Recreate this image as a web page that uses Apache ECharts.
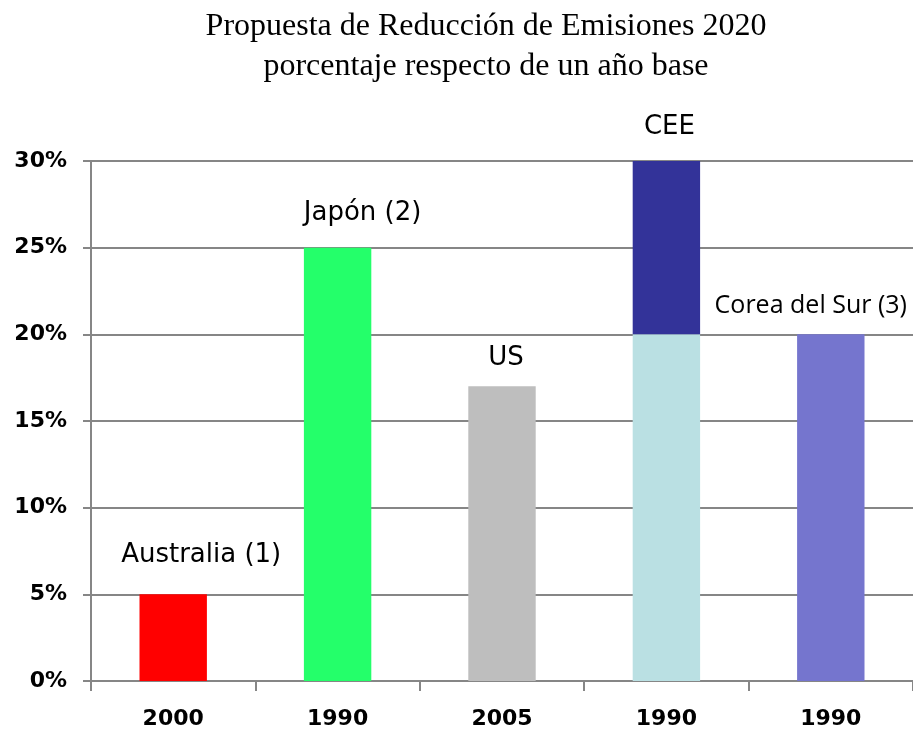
<!DOCTYPE html>
<html>
<head>
<meta charset="utf-8">
<script src="https://cdn.jsdelivr.net/npm/echarts@6/dist/echarts.min.js"></script>
<style>
  html, body { margin: 0; padding: 0; background: #fff; }
  #chart { width: 913px; height: 733px; }
</style>
</head>
<body>
<div id="chart"></div>
<script>
// base year for each proposal (x axis)
var categories = ['2000', '1990', '2005', '1990', '1990'];
var barNames = ['Australia (1)', 'Japón (2)', 'US', 'CEE', 'Corea del Sur (3)'];
// reduction, % of base year
var baseValues = [5, 25, 17, 20, 20];
var extraValues = [0, 0, 0, 10, 0];   // CEE upper range
var baseColors = ['#ff0000', '#24ff6a', '#bebebe', '#bae0e3', '#7575ce'];
var extraColor = '#333399';

// label nudges so text sits like the original slide
var labelOffsets = [[28, -26], [25, -21], [4, -15], [3, -21], [-20, -16]];

var chart = echarts.init(document.getElementById('chart'));

function barLabel(i, show) {
  return {
    show: show,
    formatter: barNames[i],
    offset: labelOffsets[i],
    fontFamily: i === 4 ? 'Open Sans' : 'DejaVu Sans',
    fontSize: i === 4 ? 25 : 26
  };
}

var baseData = baseValues.map(function (v, i) {
  return { value: v, itemStyle: { color: baseColors[i] }, label: barLabel(i, extraValues[i] === 0) };
});
var extraData = extraValues.map(function (v, i) {
  return { value: v, itemStyle: { color: extraColor }, label: barLabel(i, v > 0) };
});

chart.setOption({
  animation: false,
  title: {
    text: 'Propuesta de Reducción de Emisiones 2020\nporcentaje respecto de un año base',
    left: 481,
    textAlign: 'center',
    top: 2,
    textStyle: {
      fontFamily: 'Liberation Serif',
      fontWeight: 'normal',
      fontSize: 32,
      lineHeight: 40,
      color: '#000'
    }
  },
  grid: { left: 91, top: 161, width: 831, height: 520, containLabel: false },
  xAxis: {
    type: 'category',
    data: categories,
    axisLine: { lineStyle: { color: '#868686', width: 2 } },
    axisTick: { show: true, length: 10, lineStyle: { color: '#868686', width: 2 } },
    axisLabel: {
      color: '#000',
      fontFamily: 'DejaVu Sans',
      fontWeight: 'bold',
      fontSize: 22,
      margin: 27
    }
  },
  yAxis: {
    type: 'value',
    min: 0,
    max: 30,
    interval: 5,
    axisLine: { show: true, lineStyle: { color: '#868686', width: 2 } },
    axisTick: { show: true, length: 8, lineStyle: { color: '#868686', width: 2 } },
    splitLine: { lineStyle: { color: '#868686', width: 2 } },
    axisLabel: {
      formatter: '{value}%',
      color: '#000',
      fontFamily: 'DejaVu Sans',
      fontWeight: 'bold',
      fontSize: 22,
      margin: 24
    }
  },
  series: [
    {
      type: 'bar',
      stack: 'total',
      barWidth: '41%',
      data: baseData,
      label: { position: 'top', distance: 0, color: '#000' }
    },
    {
      type: 'bar',
      stack: 'total',
      barWidth: '41%',
      data: extraData,
      label: { position: 'top', distance: 0, color: '#000' }
    }
  ]
});
</script>
</body>
</html>
